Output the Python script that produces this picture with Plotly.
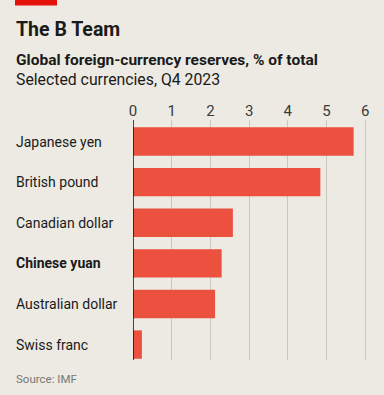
import plotly.graph_objects as go

categories = ["Japanese yen", "British pound", "Canadian dollar", "Chinese yuan", "Australian dollar", "Swiss franc"]
values = [5.70, 4.84, 2.58, 2.29, 2.12, 0.23]
tick_vals = [0, 1, 2, 3, 4, 5, 6]
tick_text = ["0", "1", "2", "3", "4", "5", "6"]
bold_category = "Chinese yuan"

W, H = 384, 395
L, R, T, B = 133, 11, 120, 35
PW, PH = W - L - R, H - T - B

def px_x(x):
    return (x - L) / PW

def px_y(y):
    return 1 + (T - y) / PH

BG = "#ECEAE2"
FONT = "Roboto"

fig = go.Figure(go.Bar(
    x=values, y=list(range(len(categories))), orientation="h",
    marker=dict(color="#EC5140", line=dict(width=0)),
    width=0.70,
    hoverinfo="skip",
))

annotations = []
for i, c in enumerate(categories):
    txt = f"<b>{c}</b>" if c == bold_category else c
    annotations.append(dict(
        x=px_x(14), xref="paper", y=i, yref="y", text=txt, showarrow=False,
        xanchor="left", yanchor="middle",
        font=dict(family=FONT, size=14, color="#1a1a1a"),
    ))

annotations += [
    dict(x=px_x(14), xref="paper", y=px_y(29), yref="paper", text="<b>The B Team</b>",
         showarrow=False, xanchor="left", yanchor="middle",
         font=dict(family=FONT, size=19.5, color="#1a1a1a")),
    dict(x=px_x(14), xref="paper", y=px_y(60), yref="paper",
         text="<b>Global foreign-currency reserves, % of total</b>",
         showarrow=False, xanchor="left", yanchor="middle",
         font=dict(family=FONT, size=15.5, color="#1a1a1a")),
    dict(x=px_x(14), xref="paper", y=px_y(80), yref="paper",
         text="Selected currencies, Q4 2023",
         showarrow=False, xanchor="left", yanchor="middle",
         font=dict(family=FONT, size=15.8, color="#1a1a1a")),
    dict(x=px_x(14), xref="paper", y=px_y(379), yref="paper",
         text="Source: IMF",
         showarrow=False, xanchor="left", yanchor="middle",
         font=dict(family=FONT, size=11.5, color="#777777")),
]

shapes = [
    dict(type="rect", xref="paper", yref="paper", x0=px_x(15), x1=px_x(57),
         y0=px_y(0), y1=px_y(5.5), fillcolor="#E3120B", line=dict(width=0), layer="above"),
    dict(type="line", xref="x", yref="paper", x0=0, x1=0, y0=0, y1=1,
         line=dict(color="#111111", width=1.5), layer="above"),
]

fig.update_layout(
    width=W, height=H,
    margin=dict(l=L, r=R, t=T, b=B),
    paper_bgcolor=BG, plot_bgcolor=BG,
    showlegend=False,
    bargap=0.3,
    annotations=annotations,
    shapes=shapes,
    xaxis=dict(
        range=[0, 6.2], side="top", tickvals=tick_vals, ticktext=tick_text,
        showgrid=True, gridcolor="#C9C7BF", gridwidth=1,
        zeroline=False, showline=False, ticks="",
        tickfont=dict(family=FONT, size=15, color="#3a3a3a"),
        fixedrange=True,
    ),
    yaxis=dict(
        range=[5.38, -0.53], showticklabels=False, showgrid=False,
        zeroline=False, showline=False, ticks="", fixedrange=True,
    ),
)

fig.write_html("out.html", config={"displayModeBar": False, "staticPlot": True},
               post_script="document.body.style.margin='0';document.body.style.background='" + BG + "';")
